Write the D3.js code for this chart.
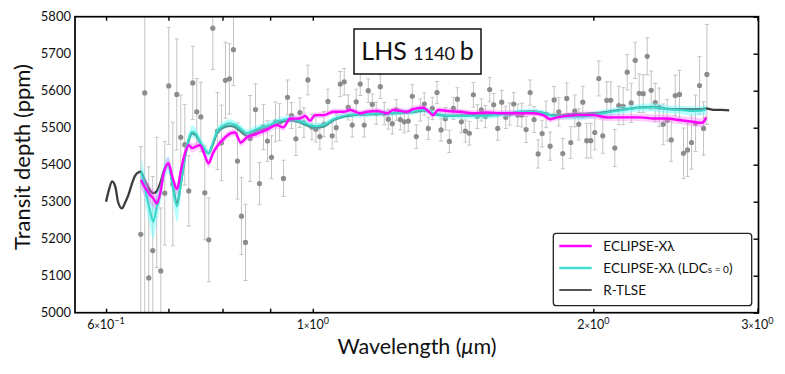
<!DOCTYPE html>
<html><head><meta charset="utf-8">
<script src="https://cdn.jsdelivr.net/npm/d3@7"></script>
<style>
body{margin:0;background:#fff}
text{font-family:Lato,"Open Sans",sans-serif;fill:#111}
</style>
</head><body>
<svg id="c" width="785" height="374"></svg>
<script>
// ---- observed transit depths (gray points) ----
const pointWl = [0.6537,0.6602,0.6668,0.6734,0.6801,0.6869,0.6937,0.7006,0.7076,0.7146,
0.7217,0.7289,0.7361,0.7434,0.7508,0.7583,0.7658,0.7734,0.7811,
0.7901,0.7980,0.8059,0.8139,0.8220,0.8302,0.8384,0.8468,0.8566,0.8680,
0.8766,0.8853,0.8941,0.9030,0.9119,0.9210,0.9301,0.9394,0.9488,0.9591,
0.9687,0.9783,0.9880,0.9978,1.0077,1.0177,1.0279,1.0381,
1.0492,1.0596,1.0702,1.0808,1.0915,1.1024,1.1133,1.1244,1.1356,1.1469,
1.1583,1.1698,1.1815,1.1932,1.2051,1.2171,1.2292,1.2414,1.2537,1.2662,
1.2788,1.2915,1.3043,1.3173,1.3304,1.3436,1.3593,1.3728,
1.3876,1.4014,1.4153,1.4294,1.4436,1.4579,1.4724,1.4870,1.5018,1.5167,
1.5318,1.5482,1.5636,1.5792,1.5949,1.6108,1.6268,1.6429,1.6593,1.6758,
1.6940,1.7109,1.7279,1.7451,1.7624,1.7799,1.7976,1.8155,
1.8363,1.8545,1.8730,1.8916,1.9104,1.9294,1.9486,1.9679,1.9875,2.0072,
2.0272,2.0473,2.0677,2.0882,2.1090,2.1299,2.1532,2.1746,2.1962,2.2181,
2.2401,2.2624,2.2848,2.3075,2.3305,2.3536,2.3770,2.4006,2.4245,2.4486,
2.4747,2.4993,2.5242,2.5493,2.5746,2.6002,2.6261,2.6480];
const pointDepth = [5212,5594,5094,5168,5298,5113,5323,5613,5348,5590,
5474,5454,5329,5621,5543,5529,5324,5197,5769,
5491,5459,5628,5632,5711,5410,5261,5190,5471,5549,
5349,5502,5464,5420,5516,5515,5363,5582,5533,5470,
5541,5514,5629,5502,5496,5476,5510,5571,
5478,5500,5618,5624,5555,5507,5570,5618,5507,5600,
5563,5539,5611,5538,5523,5511,5548,5522,5516,5518,
5585,5476,5548,5564,5498,5552,5595,5494,
5524,5463,5552,5577,5516,5491,5485,5589,5530,5548,
5530,5603,5562,5498,5569,5528,5537,5564,5534,5534,
5495,5595,5522,5429,5484,5536,5450,5575,
5543,5430,5579,5460,5545,5509,5569,5465,5465,5487,
5633,5478,5574,5574,5445,5560,5558,5650,5567,5682,
5593,5592,5693,5601,5568,5555,5509,5520,5467,5587,
5590,5431,5440,5460,5512,5614,5498,5644];
const pointErr = [237,700,300,200,176,170,140,158,167,150,
114,109,95,99,90,94,127,113,112,
104,102,103,95,97,103,104,103,116,70,
57,61,55,58,54,50,49,47,35,45,
40,40,40,35,35,34,34,33,
35,38,34,36,34,32,34,31,32,32,
28,30,32,30,27,28,28,28,30,28,
32,32,30,30,30,30,30,30,
30,30,30,31,30,30,32,33,32,30,
30,33,30,32,32,30,30,31,30,32,
35,34,35,38,36,36,38,36,
38,41,42,43,43,42,43,47,47,47,
47,47,50,50,50,52,50,48,53,49,
52,51,50,52,52,52,55,56,58,55,
65,68,72,72,76,78,72,135];

// ---- model spectra ----
const modelWl = [0.654,0.659,0.664,0.669,0.674,0.680,0.686,0.692,0.700,0.707,
0.715,0.722,0.729,0.736,0.742,0.749,0.757,0.764,0.773,0.781,
0.789,0.801,0.815,0.825,0.837,0.850,0.863,0.878,0.893,0.915,
0.930,0.945,0.969,0.981,0.993,1.006,1.027,1.052,1.079,1.097,
1.124,1.144,1.172,1.202,1.220,1.262,1.281,1.313,1.330,1.346,
1.363,1.394,1.439,1.486,1.539,1.589,1.641,1.669,1.724,1.767,
1.798,1.829,1.875,1.936,1.999,2.070,2.153,2.246,2.319,2.401,
2.479,2.560,2.611,2.630,2.643];
const eclipse = [5359,5343,5330,5318,5310,5296,5323,5378,5404,5366,
5334,5385,5430,5453,5445,5449,5453,5432,5404,5430,
5449,5468,5484,5487,5460,5474,5480,5487,5495,5507,
5501,5524,5525,5532,5519,5534,5534,5543,5543,5548,
5539,5543,5545,5539,5548,5543,5550,5554,5545,5534,
5548,5545,5543,5539,5541,5539,5539,5539,5539,5534,
5523,5528,5532,5534,5534,5528,5528,5528,5525,5525,
5520,5516,5513,5517,5528];
const eclipseErr = [22,24,25,25,24,22,18,16,15,15,
15,14,13,12,12,12,11,11,12,11,
10,10,10,10,10,10,10,10,10,10,
9,9,9,9,8,8,8,8,8,8,
8,8,8,8,8,8,8,8,8,8,
8,8,8,8,8,8,8,8,8,8,
8,8,9,9,10,10,10,10,11,11,
11,12,12,12,12];
const eclipseLdc0 = [5381,5350,5310,5275,5246,5285,5320,5378,5400,5345,
5287,5350,5420,5470,5489,5484,5462,5445,5431,5458,
5489,5505,5512,5508,5497,5485,5492,5500,5505,5516,
5521,5524,5518,5512,5507,5504,5507,5523,5532,5535,
5536,5537,5538,5539,5540,5542,5543,5548,5545,5539,
5536,5532,5532,5532,5532,5536,5539,5543,5543,5540,
5533,5530,5530,5530,5534,5541,5548,5554,5555,5550,
5548,5545,5546,5548,5550];
const eclipseLdc0Err = [35,38,42,45,48,40,30,25,22,30,
42,30,22,18,16,15,14,14,13,12,
12,11,11,10,10,10,10,10,10,10,
9,9,9,9,8,8,8,8,8,8,
8,8,8,8,8,8,8,8,8,8,
8,8,8,8,8,8,8,8,8,8,
8,8,8,9,10,10,10,10,11,11,
11,12,12,12,12];
const rtlseWl = [0.600,0.604,0.609,0.614,0.618,0.624,0.629,0.634,0.639,0.644,0.648,
0.654,0.659,0.664,0.669,0.674,0.680,0.686,0.692,0.700,0.707,
0.715,0.722,0.729,0.736,0.742,0.749,0.757,0.764,0.773,0.781,
0.789,0.801,0.815,0.825,0.837,0.850,0.863,0.878,0.893,0.915,
0.930,0.945,0.969,0.981,0.993,1.006,1.027,1.052,1.079,1.097,
1.124,1.144,1.172,1.202,1.220,1.262,1.281,1.313,1.330,1.346,
1.363,1.394,1.439,1.486,1.539,1.589,1.641,1.669,1.724,1.767,
1.798,1.829,1.875,1.936,1.999,2.070,2.153,2.246,2.319,2.401,
2.479,2.560,2.611,2.630,2.643,2.691,2.748,2.798];
const rtlse = [5300,5330,5355,5340,5300,5282,5298,5318,5345,5368,5377,
5381,5362,5345,5330,5323,5328,5350,5383,5399,5350,
5295,5352,5420,5466,5485,5480,5460,5443,5431,5455,
5485,5500,5505,5502,5490,5478,5485,5494,5498,5510,
5517,5520,5515,5508,5503,5500,5503,5520,5530,5533,
5535,5536,5537,5538,5539,5541,5542,5547,5544,5538,
5535,5532,5533,5534,5535,5538,5540,5543,5544,5540,
5534,5533,5535,5537,5539,5543,5549,5555,5556,5551,
5550,5550,5550,5551,5552,5548,5548,5547];

const yTicks = [5000,5100,5200,5300,5400,5500,5600,5700,5800];
const xTicks = [0.6,0.7,0.8,0.9,1,2,3];
const xTickLabels = [{v:0.6,m:"6",e:"−1"},{v:1,m:"1",e:"0"},{v:2,m:"2",e:"0"},{v:3,m:"3",e:"0"}];
const legendItems = ["ECLIPSE-Xλ","ECLIPSE-Xλ (LDCs = 0)","R-TLSE"];
const titleParts = [{t:"LHS ",s:25},{t:"1140 ",s:18},{t:"b",s:25}];

// ---- layout ----
const L=75, R=758.5, T=16.7, B=312.7;
const svg=d3.select("#c");
const x=d3.scaleLog().domain([0.5557,3.008]).range([L,R]);
const y=d3.scaleLinear().domain([5000,5800]).range([B,T]);

svg.append("defs").append("clipPath").attr("id","clip")
  .append("rect").attr("x",L).attr("y",T).attr("width",R-L).attr("height",B-T);
const g=svg.append("g").attr("clip-path","url(#clip)");

// error bars
const pts=pointWl.map((w,i)=>({w,d:pointDepth[i],e:pointErr[i]}));
const eb=g.append("g").attr("stroke","#c4c4c4").attr("stroke-width",1);
pts.forEach(p=>{
  const cx=x(p.w), y1=y(p.d+p.e), y2=y(p.d-p.e);
  eb.append("line").attr("x1",cx).attr("x2",cx).attr("y1",y1).attr("y2",y2);
  eb.append("line").attr("x1",cx-2).attr("x2",cx+2).attr("y1",y1).attr("y2",y1);
  eb.append("line").attr("x1",cx-2).attr("x2",cx+2).attr("y1",y2).attr("y2",y2);
});
g.append("g").selectAll("circle").data(pts).join("circle")
  .attr("cx",p=>x(p.w)).attr("cy",p=>y(p.d)).attr("r",2.6).attr("fill","#8c8c8c");

const curve=d3.curveMonotoneX;
const line=d3.line().curve(curve);
const area=d3.area().curve(curve);

// R-TLSE
g.append("path").attr("d",line(rtlseWl.map((w,i)=>[x(w),y(rtlse[i])])))
  .attr("fill","none").attr("stroke","#3c3c3c").attr("stroke-width",2.3);

// bands
function band(vals,errs,color,op){
  g.append("path").attr("d",area.x(d=>d[0]).y0(d=>d[1]).y1(d=>d[2])(modelWl.map((w,i)=>[x(w),y(vals[i]-errs[i]),y(vals[i]+errs[i])])))
   .attr("fill",color).attr("opacity",op);
}
band(eclipseLdc0,eclipseLdc0Err,"#66ffff",0.45);
band(eclipse,eclipseErr,"#ff66ff",0.35);
g.append("path").attr("d",line(modelWl.map((w,i)=>[x(w),y(eclipseLdc0[i])])))
  .attr("fill","none").attr("stroke","#3ad8c8").attr("stroke-width",2);
g.append("path").attr("d",line(modelWl.map((w,i)=>[x(w),y(eclipse[i])])))
  .attr("fill","none").attr("stroke","#ff00ff").attr("stroke-width",2.4);

// axes
const ax=svg.append("g").attr("stroke-width",1.4);
ax.append("g").attr("transform",`translate(0,${B})`)
  .call(d3.axisBottom(x).tickValues(xTicks).tickSize(-4).tickFormat(""));
ax.append("g").attr("transform",`translate(0,${T})`)
  .call(d3.axisTop(x).tickValues(xTicks).tickSize(-4).tickFormat(""));
ax.append("g").attr("transform",`translate(${R},0)`)
  .call(d3.axisRight(y).tickValues(yTicks).tickSize(-5).tickFormat(""));
ax.selectAll(".domain").remove();
ax.selectAll(".tick line").attr("stroke","#000").attr("stroke-width",1.4);
svg.append("rect").attr("x",L).attr("y",T).attr("width",R-L).attr("height",B-T)
  .attr("fill","none").attr("stroke","#000").attr("stroke-width",1.7);

// y tick labels
svg.append("g").selectAll("text").data(yTicks).join("text")
  .attr("x",71).attr("y",d=>y(d)).attr("dy","0.36em").attr("text-anchor","end")
  .attr("font-size",13).text(d=>d);

// x tick labels
xTickLabels.forEach(t=>{
  const tx=svg.append("text").attr("x",x(t.v)).attr("y",329).attr("text-anchor","middle").attr("font-size",12.5);
  tx.append("tspan").text(t.m);
  tx.append("tspan").attr("font-size",9).attr("dy",-0.5).text("×");
  tx.append("tspan").attr("dy",0.5).text("10");
  tx.append("tspan").attr("font-size",9).attr("dy",-5).text(t.e);
});

// axis titles
svg.append("text").attr("transform","translate(30,157) rotate(-90)").attr("text-anchor","middle")
  .attr("font-size",22).text("Transit depth (ppm)");
const xl=svg.append("text").attr("x",417).attr("y",354).attr("text-anchor","middle").attr("font-size",21.5);
xl.append("tspan").text("Wavelength (");
xl.append("tspan").attr("font-style","italic").text("μ");
xl.append("tspan").text("m)");

// title box
svg.append("rect").attr("x",354).attr("y",29).attr("width",127).attr("height",45)
  .attr("fill","#fff").attr("stroke","#000").attr("stroke-width",1.4);
const tt=svg.append("text").attr("x",417.5).attr("y",60).attr("text-anchor","middle");
titleParts.forEach(p=>tt.append("tspan").attr("font-size",p.s).text(p.t));

// legend
const lg=svg.append("g");
lg.append("rect").attr("x",553.3).attr("y",233.3).attr("width",198.4).attr("height",72.4).attr("rx",3)
  .attr("fill","#fff").attr("stroke","#222").attr("stroke-width",1.3);
const lcol=["#ff00ff","#40e0d0","#555"];
legendItems.forEach((t,i)=>{
  const yy=246+i*22;
  lg.append("line").attr("x1",559.3).attr("x2",591.7).attr("y1",yy).attr("y2",yy)
    .attr("stroke",lcol[i]).attr("stroke-width",i==2?2:2.4);
  const tx=lg.append("text").attr("x",603.3).attr("y",yy+4.8).attr("font-size",13.5).attr("fill","#222");
  if(i==1){
    tx.append("tspan").text("ECLIPSE-Xλ (LDC");
    tx.append("tspan").attr("font-size",10).text("s = 0");
    tx.append("tspan").text(")");
  } else tx.text(t);
});
</script>
</body></html>
